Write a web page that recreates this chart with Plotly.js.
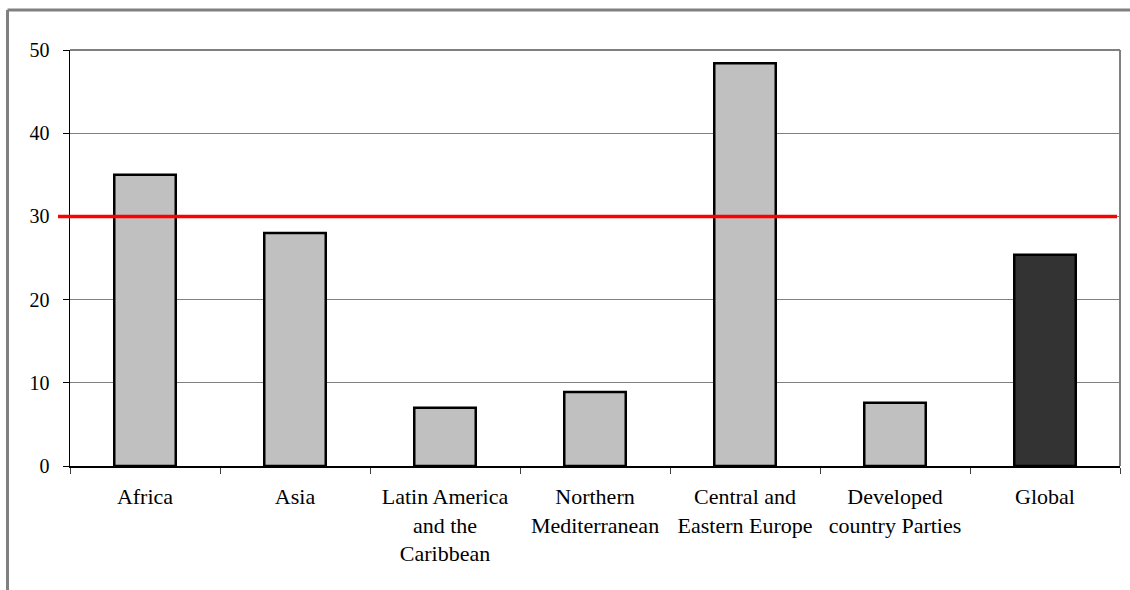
<!DOCTYPE html>
<html>
<head>
<meta charset="utf-8">
<script src="https://cdn.plot.ly/plotly-3.0.1.min.js"></script>
<style>
  html, body { margin: 0; padding: 0; background: #ffffff; overflow: hidden; }
  #chart { width: 1130px; height: 590px; }
</style>
</head>
<body>
<div id="chart"></div>
<script>
// ---- data ----
const categories = [
  "Africa",
  "Asia",
  "Latin America<br>and the<br>Caribbean",
  "Northern<br>Mediterranean",
  "Central and<br>Eastern Europe",
  "Developed<br>country Parties",
  "Global"
];
const values = [35.0, 28.0, 7.0, 8.9, 48.4, 7.6, 25.4];
const thresholdValue = [30];
const yTickValues = [0, 10, 20, 30, 40, 50];

// ---- styles ----
const barColors = ["#c0c0c0", "#c0c0c0", "#c0c0c0", "#c0c0c0", "#c0c0c0", "#c0c0c0", "#333333"];
const fontFamily = '"Liberation Serif", "Times New Roman", serif';

const trace = {
  type: "bar",
  x: categories,
  y: values,
  marker: { color: barColors, line: { color: "#000000", width: 2.5 } },
  hoverinfo: "x+y"
};

// Pixel-to-paper helpers for decoration outside the plot area
const L = 70, T = 50, W = 1050, H = 416;
const px = v => (v - L) / W;
const py = v => (T + H - v) / H;

const layout = {
  width: 1130,
  height: 590,
  margin: { l: L, r: 1130 - L - W, t: T, b: 590 - T - H, pad: 0 },
  paper_bgcolor: "#ffffff",
  plot_bgcolor: "#ffffff",
  showlegend: false,
  bargap: 0.59,
  font: { family: fontFamily, size: 20, color: "#000000" },
  xaxis: {
    type: "category",
    tickson: "boundaries",
    ticks: "outside",
    ticklen: 6,
    tickwidth: 1,
    tickcolor: "#404040",
    ticklabelstandoff: 10,
    showline: true,
    linecolor: "#000000",
    linewidth: 1.5,
    showgrid: false,
    zeroline: false,
    tickfont: { family: fontFamily, size: 22, color: "#000000" },
    fixedrange: true
  },
  yaxis: {
    range: [0, 50],
    tickvals: yTickValues,
    ticktext: yTickValues.map(String),
    ticks: "outside",
    ticklen: 6,
    tickwidth: 1,
    tickcolor: "#000000",
    ticklabelstandoff: 9,
    showline: true,
    linecolor: "#000000",
    linewidth: 1.5,
    showgrid: true,
    gridcolor: "#808080",
    gridwidth: 1,
    zeroline: false,
    tickfont: { family: fontFamily, size: 20, color: "#000000" },
    fixedrange: true
  },
  shapes: [
    // plot-area frame (top & right)
    { type: "line", xref: "paper", yref: "paper", x0: 0, x1: 1, y0: 1, y1: 1,
      line: { color: "#808080", width: 2 } },
    { type: "line", xref: "paper", yref: "paper", x0: 1, x1: 1, y0: 0, y1: 1,
      line: { color: "#808080", width: 2 } },
    // outer chart frame (top & left)
    { type: "line", xref: "paper", yref: "paper", x0: px(7.5), x1: px(1135), y0: py(10), y1: py(10),
      line: { color: "#808080", width: 3 } },
    { type: "line", xref: "paper", yref: "paper", x0: px(7.5), x1: px(7.5), y0: py(10), y1: py(600),
      line: { color: "#808080", width: 3 } },
    // threshold line
    { type: "line", xref: "paper", yref: "y", x0: px(58), x1: px(1117),
      y0: thresholdValue[0], y1: thresholdValue[0],
      line: { color: "#ff0000", width: 3.5 }, layer: "above" }
  ]
};

Plotly.newPlot("chart", [trace], layout, { displayModeBar: false, staticPlot: true });
</script>
</body>
</html>
